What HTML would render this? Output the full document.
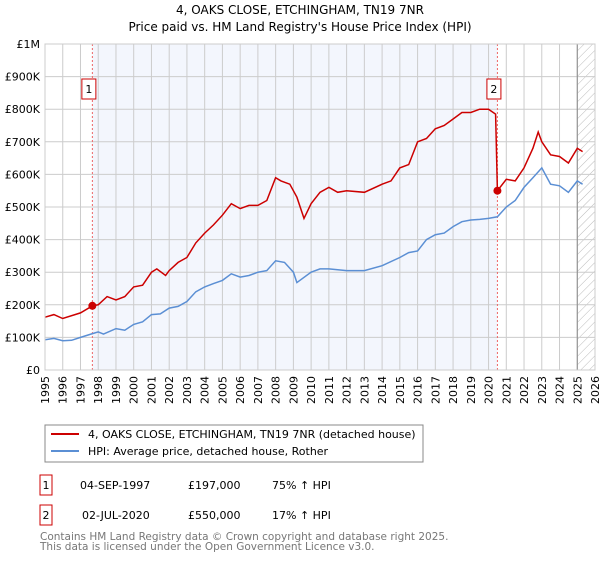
<!DOCTYPE html>
<html><head><meta charset="utf-8"><style>
body{margin:0;background:#fff;font-family:"Liberation Sans","DejaVu Sans",sans-serif;}
svg text{font-family:"DejaVu Sans","Liberation Sans",sans-serif;}
</style></head><body>
<svg id="c" width="600" height="560" xmlns="http://www.w3.org/2000/svg">
<defs><pattern id="hatch" width="6" height="6" patternUnits="userSpaceOnUse" patternTransform="rotate(45)"><line x1="0" y1="0" x2="0" y2="6" stroke="#bbb" stroke-width="1"/></pattern></defs>
<text x="300" y="14" text-anchor="middle" font-size="12">4, OAKS CLOSE, ETCHINGHAM, TN19 7NR</text>
<text x="300" y="31" text-anchor="middle" font-size="12">Price paid vs. HM Land Registry's House Price Index (HPI)</text>
<g id="plot"></g>
<rect x="45" y="425" width="378" height="37" fill="#fff" stroke="#888"/>
<line x1="51" y1="434" x2="79" y2="434" stroke="#cc0000" stroke-width="2"/>
<text x="88" y="438" font-size="11">4, OAKS CLOSE, ETCHINGHAM, TN19 7NR (detached house)</text>
<line x1="51" y1="451" x2="79" y2="451" stroke="#5b8fd4" stroke-width="2"/>
<text x="88" y="455" font-size="11">HPI: Average price, detached house, Rother</text>
<g>
<rect x="40" y="475" width="12" height="20" fill="#fff" stroke="#cc0000"/><text x="46" y="489" text-anchor="middle" font-size="11">1</text>
<text x="80" y="489" font-size="11">04-SEP-1997</text><text x="188" y="489" font-size="11">£197,000</text><text x="272" y="489" font-size="11">75% ↑ HPI</text></g>
<g>
<rect x="40" y="505" width="12" height="20" fill="#fff" stroke="#cc0000"/><text x="46" y="519" text-anchor="middle" font-size="11">2</text>
<text x="82" y="519" font-size="11">02-JUL-2020</text><text x="188" y="519" font-size="11">£550,000</text><text x="272" y="519" font-size="11">17% ↑ HPI</text></g>
<text x="40" y="540" font-size="10.5" fill="#777">Contains HM Land Registry data © Crown copyright and database right 2025.</text>
<text x="40" y="550" font-size="10.5" fill="#777">This data is licensed under the Open Government Licence v3.0.</text>
</svg>
<script>
const hpiYears=[1995,1995.5,1996,1996.5,1997,1997.7,1998,1998.3,1999,1999.5,2000,2000.5,2001,2001.5,2002,2002.5,2003,2003.5,2004,2004.5,2005,2005.5,2006,2006.5,2007,2007.5,2008,2008.5,2009,2009.2,2010,2010.5,2011,2012,2013,2014,2015,2015.5,2016,2016.5,2017,2017.5,2018,2018.5,2019,2019.5,2020,2020.5,2021,2021.5,2022,2022.5,2023,2023.5,2024,2024.5,2025,2025.3];
const hpiValues=[93,97,90,91,100,112,117,110,127,122,140,148,170,172,190,195,210,240,255,265,275,295,285,290,300,305,335,330,300,268,300,310,310,305,305,320,345,360,365,400,415,420,440,455,460,462,465,470,500,520,560,590,620,570,565,545,580,570];
const propYears=[1995,1995.5,1996,1997,1997.67,1998,1998.5,1999,1999.5,2000,2000.5,2001,2001.3,2001.8,2002,2002.5,2003,2003.5,2004,2004.5,2005,2005.5,2006,2006.5,2007,2007.5,2008,2008.3,2008.8,2009.2,2009.6,2010,2010.5,2011,2011.5,2012,2013,2014,2014.5,2015,2015.5,2016,2016.5,2017,2017.5,2018,2018.5,2019,2019.5,2020,2020.4,2020.5,2021,2021.5,2022,2022.5,2022.8,2023,2023.5,2024,2024.5,2025,2025.3];
const propValues=[162,170,158,175,197,200,225,215,225,255,260,300,310,290,305,330,345,390,420,445,475,510,495,505,505,520,590,580,570,530,465,510,545,560,545,550,545,570,580,620,630,700,710,740,750,770,790,790,800,800,785,550,585,580,620,680,730,700,660,655,635,680,670];
const saleYears=[1997.67,2020.5];
const saleValues=[197,550];
const yTicks=[0,100,200,300,400,500,600,700,800,900,1000];
const yTickLabels=["£0","£100K","£200K","£300K","£400K","£500K","£600K","£700K","£800K","£900K","£1M"];
const x=y=>45+(y-1995)*550/31;
const yv=v=>370-v*0.326;
const NS="http://www.w3.org/2000/svg";
const g=document.getElementById('plot');
function mk(t,a,p){const e=document.createElementNS(NS,t);for(const k in a)e.setAttribute(k,a[k]);(p||g).appendChild(e);return e;}
let e;
e=mk('rect',{x:x(saleYears[0]),y:yv(1000),width:x(saleYears[1])-x(saleYears[0]),height:yv(0)-yv(1000),fill:'#f3f6fd'});


e=mk('rect',{x:x(2025),y:yv(1000),width:x(2026)-x(2025),height:yv(0)-yv(1000),fill:'url(#hatch)'});


for(let yr=1995;yr<=2026;yr++){
 mk('line',{x1:x(yr),x2:x(yr),y1:yv(0),y2:yv(1000),stroke:'#ccc','stroke-width':1});
 e=mk('text',{transform:`translate(${x(yr)+4},${yv(0)+6}) rotate(-90)`,'text-anchor':'end','font-size':11});
 e.textContent=yr;
 
 
}
yTicks.forEach((v,i)=>{
 mk('line',{x1:45,x2:595,y1:yv(v),y2:yv(v),stroke:'#ccc','stroke-width':1});
 e=mk('text',{x:40,y:yv(v)+4,'text-anchor':'end','font-size':11});
 e.textContent=yTickLabels[i];
 
 
});
mk('line',{x1:x(2025),x2:x(2025),y1:yv(0),y2:yv(1000),stroke:'#888','stroke-width':1});
saleYears.forEach((s,i)=>{
 e=mk('line',{x1:x(s),x2:x(s),y1:yv(0),y2:yv(1000),stroke:'#e66','stroke-width':1,'stroke-dasharray':'2,2'});
 
 
});
function path(xs,vs,col,name){
 e=mk('path',{d:xs.map((t,i)=>(i?'L':'M')+x(t).toFixed(1)+','+yv(vs[i]).toFixed(1)).join(''),fill:'none',stroke:col,'stroke-width':1.5});
 
 
}
path(hpiYears,hpiValues,'#5b8fd4','hpi-line');
path(propYears,propValues,'#cc0000','property-line');
saleYears.forEach((s,i)=>{
 e=mk('circle',{cx:x(s),cy:yv(saleValues[i]),r:4,fill:'#cc0000'});
 
 
 const bx=x(s)-3.5;
 e=mk('rect',{x:bx-7,y:79,width:14,height:20,fill:'#fff',stroke:'#cc0000'});
 
 
 e=mk('text',{x:bx,y:93,'text-anchor':'middle','font-size':11});
 e.textContent=i+1;
});
mk('rect',{x:45,y:yv(1000),width:550,height:yv(0)-yv(1000),fill:'none',stroke:'#ccc'});
</script>
</body></html>
